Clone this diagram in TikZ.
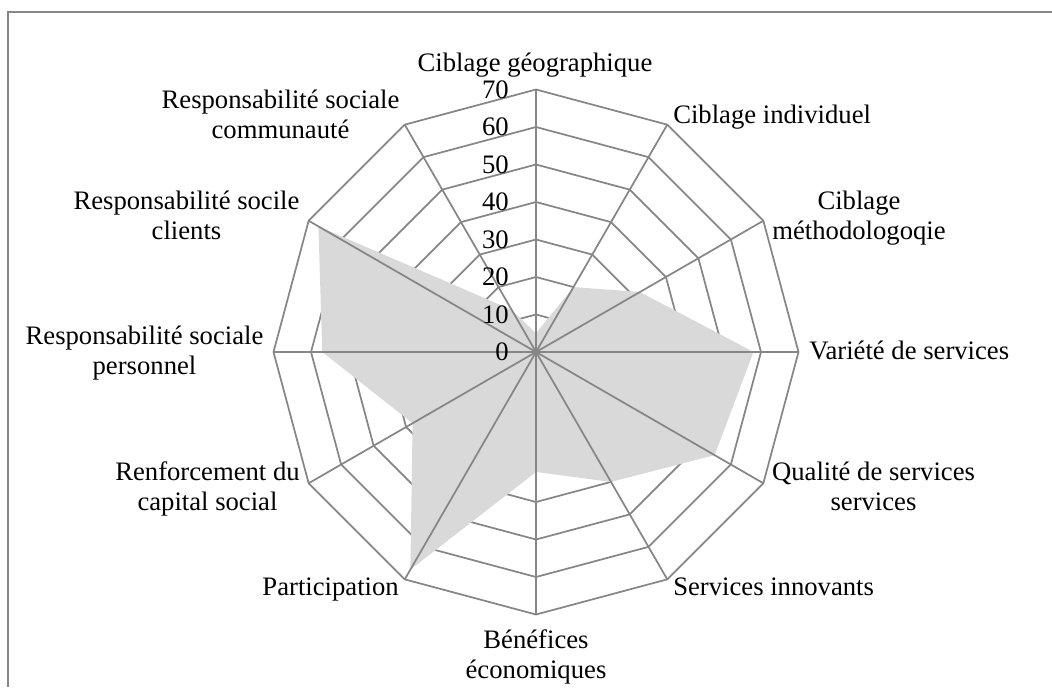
\documentclass[tikz,border=0pt]{standalone}
\usepackage{fontspec}
\setmainfont{Liberation Serif}
\definecolor{gridgray}{RGB}{134,134,134}
\definecolor{areagray}{RGB}{217,217,217}
\begin{document}
\begin{tikzpicture}[x=0.75pt,y=-0.75pt,
  grid/.style={draw=gridgray,line width=1.3pt,line join=miter},
  area/.style={fill=areagray},
  lbl/.style={font=\fontsize{20}{22.5}\selectfont,inner sep=0pt,align=center},
  num/.style={font=\fontsize{20}{22.5}\selectfont,inner sep=0pt,anchor=east}]
\useasboundingbox (0,0) rectangle (1052,687);
% frame (top and left edges visible)
\draw[draw=gridgray,line width=1.5pt] (8,687) -- (8,12) -- (1052,12);
\coordinate (O) at (536,352);
\begin{scope}[shift={(O)}]
  % rings
  \foreach \r in {1,...,7}{
    \draw[grid] (90:{\r*37.5}) \foreach \k in {1,...,11}{ -- ({90-30*\k}:{\r*37.5}) } -- cycle;
  }
  % data area (angles measured with y pointing down)
  \coordinate (v0) at (-90:{5*3.75});
  \coordinate (v1) at (-60:{20*3.75});
  \coordinate (v2) at (-30:{32*3.75});
  \coordinate (v3) at (0:{58*3.75});
  \coordinate (v4) at (30:{55*3.75});
  \coordinate (v5) at (60:{40*3.75});
  \coordinate (v6) at (90:{32*3.75});
  \coordinate (v7) at (120:{67*3.75});
  \coordinate (v8) at (150:{38*3.75});
  \coordinate (v9) at (180:{57*3.75});
  \coordinate (v10) at (210:{67*3.75});
  \coordinate (v11) at (240:{13*3.75});
  \fill[area] (v0) -- (v1) -- (v2) -- (v3) -- (v4) -- (v5) -- (v6) -- (v7) -- (v8) -- (v9) -- (v10) -- (v11) -- cycle;
  % axes
  \foreach \k in {0,...,11}{
    \coordinate (a\k) at ({30*\k-90}:262.5);
    \draw[grid] (0,0) -- (a\k);
  }
\end{scope}
% scale numbers
\foreach \v [count=\i from 0] in {0,10,20,30,40,50,60,70}{
  \node[num] (n\v) at (509,{352-37.5*\i}) {\v};
}
% category labels (base anchor = baseline of last line)
\node[lbl,anchor=base] (l0) at (535,71.5) {Ciblage géographique};
\node[lbl,anchor=base west] (l1) at (673,123.5) {Ciblage individuel};
\node[lbl,anchor=base] (l2) at (859,239) {Ciblage\\méthodologoqie};
\node[lbl,anchor=base west] (l3) at (809,359) {Variété de services};
\node[lbl,anchor=base] (l4) at (873.5,510.5) {Qualité de services\\services};
\node[lbl,anchor=base west] (l5) at (673,595) {Services innovants};
\node[lbl,anchor=base] (l6) at (536,678) {Bénéfices\\économiques};
\node[lbl,anchor=base east] (l7) at (399,595) {Participation};
\node[lbl,anchor=base] (l8) at (207.5,510.5) {Renforcement du\\capital social};
\node[lbl,anchor=base] (l9) at (144.5,374) {Responsabilité sociale\\personnel};
\node[lbl,anchor=base] (l10) at (186.5,239) {Responsabilité socile\\clients};
\node[lbl,anchor=base] (l11) at (280.5,138.5) {Responsabilité sociale\\communauté};
\end{tikzpicture}
\end{document}
